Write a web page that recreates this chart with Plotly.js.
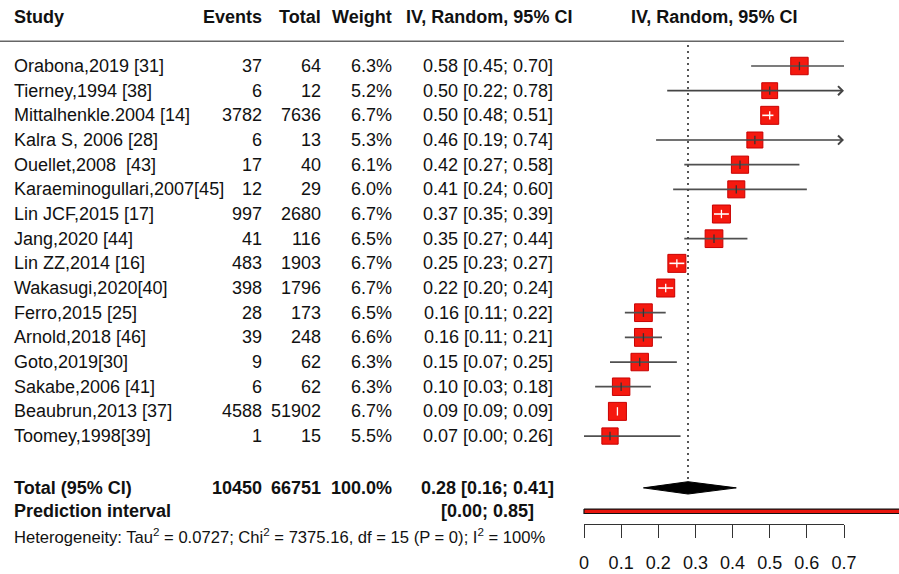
<!DOCTYPE html>
<html><head><meta charset="utf-8">
<script src="https://cdn.plot.ly/plotly-3.0.1.min.js"></script>
<style>html,body{margin:0;padding:0;background:#fff}#chart{width:899px;height:574px}</style>
</head><body><div id="chart"></div>
<script>
// ---------- data ----------
const studies = ['Orabona,2019 [31]','Tierney,1994 [38]','Mittalhenkle.2004 [14]','Kalra S, 2006 [28]','Ouellet,2008  [43]','Karaeminogullari,2007[45]','Lin JCF,2015 [17]','Jang,2020 [44]','Lin ZZ,2014 [16]','Wakasugi,2020[40]','Ferro,2015 [25]','Arnold,2018 [46]','Goto,2019[30]','Sakabe,2006 [41]','Beaubrun,2013 [37]','Toomey,1998[39]'];
const events = [37, 6, 3782, 6, 17, 12, 997, 41, 483, 398, 28, 39, 9, 6, 4588, 1];
const totals = [64, 12, 7636, 13, 40, 29, 2680, 116, 1903, 1796, 173, 248, 62, 62, 51902, 15];
const weights = [6.3, 5.2, 6.7, 5.3, 6.1, 6.0, 6.7, 6.5, 6.7, 6.7, 6.5, 6.6, 6.3, 6.3, 6.7, 5.5];
const estimates = [0.58, 0.50, 0.50, 0.46, 0.42, 0.41, 0.37, 0.35, 0.25, 0.22, 0.16, 0.16, 0.15, 0.10, 0.09, 0.07];
const ciLower = [0.45, 0.22, 0.48, 0.19, 0.27, 0.24, 0.35, 0.27, 0.23, 0.20, 0.11, 0.11, 0.07, 0.03, 0.09, 0.00];
const ciUpper = [0.70, 0.78, 0.51, 0.74, 0.58, 0.60, 0.39, 0.44, 0.27, 0.24, 0.22, 0.21, 0.25, 0.18, 0.09, 0.26];
const pooled = [0.28, 0.16, 0.41];          // estimate, lower, upper
const predictionInterval = [0.00, 0.85];
const totalEvents = 10450, totalN = 66751, totalWeight = 100.0;
const heterogeneityText = 'Heterogeneity: Tau<sup>2</sup> = 0.0727; Chi<sup>2</sup> = 7375.16, df = 15 (P = 0); I<sup>2</sup> = 100%';
const headers = ['Study', 'Events', 'Total', 'Weight', 'IV, Random, 95% CI', 'IV, Random, 95% CI'];
const tickVals = [0, 0.1, 0.2, 0.3, 0.4, 0.5, 0.6, 0.7];
const tickText = ['0', '0.1', '0.2', '0.3', '0.4', '0.5', '0.6', '0.7'];

// ---------- geometry ----------
const W = 899, H = 574;
const pxZero = 584, pxEnd = 844;
const axisMax = tickVals[tickVals.length - 1];
const ppu = (pxEnd - pxZero) / axisMax;
const xRange = [-pxZero / ppu, (W - pxZero) / ppu];
const rowTop = 66, rowStep = 24.67;
const yRange = [1 + (H - rowTop) / rowStep, 1 - rowTop / rowStep];
const rows = studies.map((s, i) => i + 1);
const totalRow = 18.1, predRow = 19.05, hetRow = 20.05, headerRow = -1;
const P = px => px / W;

const font = 'Liberation Sans, Arial, sans-serif';
const txt = '#111';
const sqSize = weights.map(w => 18 * Math.sqrt(w / Math.max(...weights)));
const narrow = ciLower.map((lo, i) => (ciUpper[i] - lo) * ppu < sqSize[i]);
const clipped = ciUpper.map(h => h > axisMax);

const traces = [];
// squares
traces.push({type: 'scatter', mode: 'markers', x: estimates, y: rows, hoverinfo: 'skip',
  marker: {symbol: 'square', size: sqSize, opacity: 1, color: '#f5190f', line: {color: '#c80000', width: 1}}});
// CI lines
function segs(filter) {
  const x = [], y = [];
  estimates.forEach((e, i) => { if (filter(i)) { x.push(ciLower[i], ciUpper[i], null); y.push(rows[i], rows[i], null); } });
  return {x, y};
}
const dark = segs(i => !narrow[i] && !clipped[i]);
traces.push({type: 'scatter', mode: 'lines', x: dark.x, y: dark.y, hoverinfo: 'skip', line: {color: '#505050', width: 1.7}});
const light = segs(i => narrow[i]);
traces.push({type: 'scatter', mode: 'lines', x: light.x, y: light.y, hoverinfo: 'skip', line: {color: '#ffffff', width: 1.6}});
// centre ticks
traces.push({type: 'scatter', mode: 'markers', x: estimates, y: rows, hoverinfo: 'skip',
  marker: {symbol: 'line-ns', size: 6, opacity: 1, line: {width: 1.3, color: narrow.map(n => n ? '#ffffff' : '#333333')}}});
// pooled reference dotted line
traces.push({type: 'scatter', mode: 'lines', x: [pooled[0], pooled[0]], y: [0.15, totalRow - 0.25], hoverinfo: 'skip',
  line: {color: '#444', width: 1.8, dash: '2px,4px'}});
// diamond
const dh = 0.25;
traces.push({type: 'scatter', mode: 'lines', x: [pooled[1], pooled[0], pooled[2], pooled[0], pooled[1]],
  y: [totalRow, totalRow - dh, totalRow, totalRow + dh, totalRow], fill: 'toself', fillcolor: '#000',
  line: {color: '#000', width: 1}, hoverinfo: 'skip'});
// prediction interval bar
const ph = 0.09;
traces.push({type: 'scatter', mode: 'lines',
  x: [predictionInterval[0], predictionInterval[1], predictionInterval[1], predictionInterval[0], predictionInterval[0]],
  y: [predRow - ph, predRow - ph, predRow + ph, predRow + ph, predRow - ph], fill: 'toself', fillcolor: '#e8150d',
  line: {color: '#111', width: 1.2}, hoverinfo: 'skip'});
// axis holder
traces.push({type: 'scatter', mode: 'markers', x: [], y: [], xaxis: 'x2', yaxis: 'y', hoverinfo: 'skip'});

// ---------- annotations ----------
const ann = [];
function t(text, px, row, anchor, opts) {
  ann.push(Object.assign({text, x: P(px), xref: 'paper', y: row, yref: 'y', xanchor: anchor, yanchor: 'middle',
    showarrow: false, font: {family: font, size: 18, color: txt}}, opts || {}));
}
const bold = s => '<b>' + s + '</b>';
// headers
t(bold(headers[0]), 12, headerRow, 'left');
t(bold(headers[1]), 264, headerRow, 'right');
t(bold(headers[2]), 323, headerRow, 'right');
t(bold(headers[3]), 394, headerRow, 'right');
t(bold(headers[4]), 574, headerRow, 'right');
t(bold(headers[5]), (pxZero + pxEnd) / 2, headerRow, 'center');
const fmt = v => v.toFixed(2);
studies.forEach((s, i) => {
  t(s, 12, rows[i], 'left');
  t(String(events[i]), 264, rows[i], 'right');
  t(String(totals[i]), 323, rows[i], 'right');
  t(weights[i].toFixed(1) + '%', 394, rows[i], 'right');
  t(fmt(estimates[i]) + ' [' + fmt(ciLower[i]) + '; ' + fmt(ciUpper[i]) + ']', 555, rows[i], 'right');
  if (clipped[i]) {
    ann.push({x: axisMax, y: rows[i], xref: 'x', yref: 'y', ax: ciLower[i], ay: rows[i], axref: 'x', ayref: 'y',
      text: '', showarrow: true, arrowhead: 4, arrowsize: 1.1, arrowwidth: 1.6, arrowcolor: '#444', standoff: 0});
  }
});
t(bold('Total (95% CI)'), 12, totalRow, 'left');
t(bold(String(totalEvents)), 264, totalRow, 'right');
t(bold(String(totalN)), 323, totalRow, 'right');
t(bold(totalWeight.toFixed(1) + '%'), 394, totalRow, 'right');
t(bold(fmt(pooled[0]) + ' [' + fmt(pooled[1]) + '; ' + fmt(pooled[2]) + ']'), 556, totalRow, 'right');
t(bold('Prediction interval'), 12, predRow, 'left');
t(bold('[' + fmt(predictionInterval[0]) + '; ' + fmt(predictionInterval[1]) + ']'), 536, predRow, 'right');
t(heterogeneityText, 12, hetRow, 'left', {font: {family: font, size: 16.6, color: txt}});

const layout = {
  width: W, height: H, margin: {l: 0, r: 0, t: 0, b: 0}, paper_bgcolor: '#fff', plot_bgcolor: 'rgba(0,0,0,0)',
  showlegend: false,
  xaxis: {domain: [0, 1], range: xRange, visible: false, fixedrange: true},
  yaxis: {domain: [0, 1], range: yRange, visible: false, fixedrange: true},
  xaxis2: {domain: [P(pxZero), P(pxEnd)], range: [0, axisMax], anchor: 'free', position: 1 - 524 / H,
    tickmode: 'array', tickvals: tickVals, ticktext: tickText, ticks: 'outside', ticklen: 13, tickwidth: 1,
    tickcolor: '#333', showline: true, linecolor: '#333', linewidth: 1, showgrid: false, zeroline: false,
    ticklabelstandoff: 9, tickfont: {family: font, size: 18, color: txt}, fixedrange: true},
  shapes: [{type: 'line', xref: 'paper', yref: 'y', x0: 0, x1: P(pxEnd), y0: 0, y1: 0, line: {color: '#666', width: 1.5}}],
  annotations: ann
};
Plotly.newPlot('chart', traces, layout, {staticPlot: true, displayModeBar: false});
</script></body></html>
